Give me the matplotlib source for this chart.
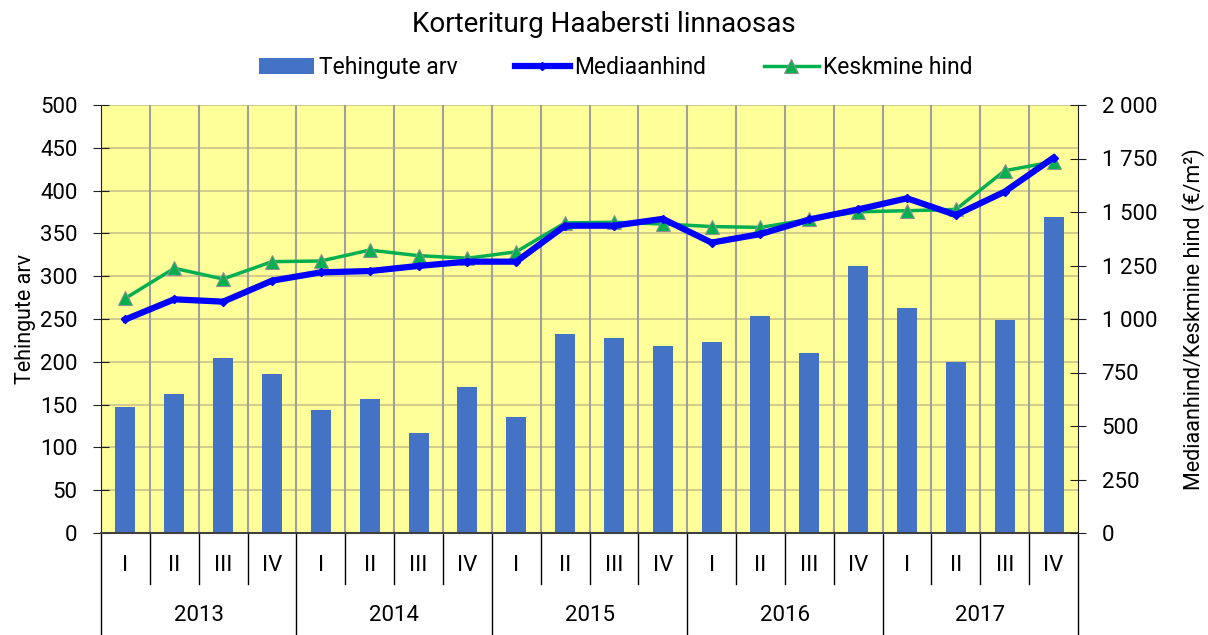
import matplotlib.pyplot as plt
import numpy as np

plt.rcParams['font.family'] = 'sans-serif'
plt.rcParams['font.sans-serif'] = ['Roboto', 'DejaVu Sans']

years = ['2013', '2014', '2015', '2016', '2017']
quarters = ['I', 'II', 'III', 'IV']

tehingud = [147, 162, 205, 186,
            144, 156, 117, 170,
            136, 232, 228, 219,
            223, 253, 210, 312,
            263, 200, 249, 369]
mediaan = [998, 1092, 1081, 1179,
           1218, 1224, 1248, 1268,
           1268, 1436, 1436, 1468,
           1357, 1397, 1465, 1512,
           1564, 1486, 1595, 1754]
keskmine = [1097, 1237, 1187, 1268,
            1271, 1322, 1296, 1284,
            1314, 1449, 1452, 1444,
            1432, 1428, 1465, 1501,
            1506, 1512, 1693, 1735]

n = len(tehingud)
x = np.arange(n)

fig = plt.figure(figsize=(12.08, 6.35), dpi=100)
ax = fig.add_axes([101 / 1208, 102 / 635, 977 / 1208, 428 / 635])
ax.set_facecolor('#ffff99')

ax.bar(x, tehingud, width=0.41, color='#4472c4', zorder=2, label='Tehingute arv')
ax.set_xlim(-0.5, n - 0.5)
ax.set_ylim(0, 500)
ax.set_yticks(range(0, 501, 50))
ax.set_xticks([])
ax.set_ylabel('Tehingute arv', fontsize=15.5, labelpad=3)

# grid: horizontal every 50, vertical at quarter boundaries
for v in range(50, 501, 50):
    ax.axhline(v, color='#c8c28a', lw=1.2, zorder=1)
for b in np.arange(0.5, n - 0.5, 1):
    ax.axvline(b, color='#a0a0a0', lw=1.5, zorder=1)

for s in ['top', 'right']:
    ax.spines[s].set_visible(False)
ax.spines['left'].set_color('#202020')
ax.spines['bottom'].set_color('#404040')
ax.spines['bottom'].set_linewidth(1.5)
ax.tick_params(axis='y', direction='inout', length=12, pad=11, labelsize=16, color='#202020')

ax2 = ax.twinx()
ax2.plot(x, mediaan, color='#0000ff', lw=4.5, marker='D', ms=4, label='Mediaanhind', zorder=4)
ax2.plot(x, keskmine, color='#00b050', lw=2.5, marker='^', ms=10,
         mfc='#00b050', mec='#909090', mew=0.8, label='Keskmine hind', zorder=3)
ax2.set_ylim(0, 2000)
ax2.set_yticks(range(0, 2001, 250))
ax2.set_yticklabels([f'{v:,}'.replace(',', ' ') for v in range(0, 2001, 250)])
ax2.tick_params(axis='y', direction='inout', length=12, pad=11, labelsize=16, color='#202020')
ax2.set_ylabel('Mediaanhind/Keskmine hind (€/m²)', fontsize=15.5, labelpad=18)
for s in ['top', 'left', 'bottom']:
    ax2.spines[s].set_visible(False)
ax2.spines['right'].set_color('#202020')

# two-level category axis below the plot
for i in range(n + 1):
    xb = i - 0.5
    depth = -0.238 if i % 4 == 0 else -0.119
    ax.plot([xb, xb], [0, depth], transform=ax.get_xaxis_transform(),
            color='black', lw=1, clip_on=False)
for i in range(n):
    ax.text(i, -0.075, quarters[i % 4], transform=ax.get_xaxis_transform(),
            ha='center', va='center', fontsize=16)
for j, yr in enumerate(years):
    ax.text(j * 4 + 1.5, -0.192, yr, transform=ax.get_xaxis_transform(),
            ha='center', va='center', fontsize=16)

fig.text(0.5, 0.962, 'Korteriturg Haabersti linnaosas', ha='center', va='center', fontsize=20)
h1, l1 = ax.get_legend_handles_labels()
h2, l2 = ax2.get_legend_handles_labels()
fig.legend(h1 + h2, l1 + l2, loc='center', bbox_to_anchor=(0.51, 0.893), ncol=3,
           frameon=False, fontsize=16.5, handlelength=2.4, columnspacing=2.5, handletextpad=0.2)

fig.savefig('out.png', dpi=100)
